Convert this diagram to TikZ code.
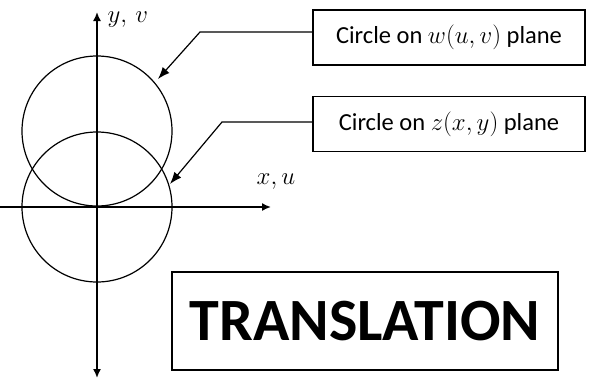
\documentclass[tikz,border=0pt]{standalone}
\usepackage{fontspec}
\setmainfont{Carlito}
\usetikzlibrary{arrows.meta}
\begin{document}
\begin{tikzpicture}[x=1pt,y=-1pt,
  axis/.style={line width=1.6pt,-{Latex[length=9pt,width=8pt]}},
  circ/.style={line width=1.2pt},
  lbl/.style={draw,line width=1.2pt,minimum width=272pt,minimum height=55pt,inner sep=0pt,font=\fontsize{24.5}{28}\selectfont},
  big/.style={draw,line width=1.2pt,minimum width=386pt,minimum height=98pt,inner sep=0pt,font=\fontsize{60}{66}\selectfont\bfseries},
  ptr/.style={line width=1.2pt,-{Latex[length=12pt,width=9pt]}},
  axl/.style={font=\fontsize{23}{26}\selectfont}]
\useasboundingbox (0,0) rectangle (590,381);
\coordinate (o) at (97,207);
\coordinate (c2) at (97,131);
\coordinate (yt) at (97,12);
\coordinate (yb) at (97,378);
\coordinate (xl) at (0,207);
\coordinate (xr) at (271,207);
\draw[axis] (o) -- (yt);
\draw[axis] (o) -- (yb);
\draw[line width=1.6pt] (xl) -- (o);
\draw[axis] (o) -- (xr);
\draw[circ] (o) circle[radius=75];
\draw[circ] (c2) circle[radius=75];
\node[axl,anchor=west] (ylab) at (104,20) {$y,\,v$};
\node[axl] (xlab) at (276,182) {$x,u$};
\node[lbl] (b1) at (449,37.5) {Circle on $w(u,v)$ plane\hspace{6pt}};
\node[lbl] (b2) at (449,124) {Circle on $z(x,y)$ plane\hspace{6pt}};
\node[big] (b3) at (365,321) {TRANSLATION};
\coordinate (k1) at (200,32);
\coordinate (t1) at (158,79);
\coordinate (k2) at (222,122);
\coordinate (t2) at (170,184);
\draw[ptr] (b1.west |- k1) -- (k1) -- (t1);
\draw[ptr] (b2.west |- k2) -- (k2) -- (t2);
\end{tikzpicture}
\end{document}
